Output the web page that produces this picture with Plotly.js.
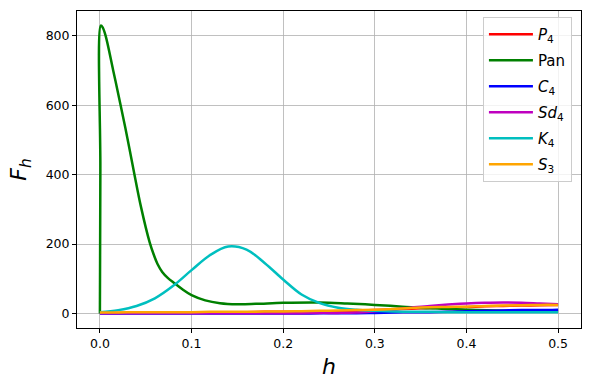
<!DOCTYPE html>
<html>
<head>
<meta charset="utf-8">
<script src="https://cdn.plot.ly/plotly-3.0.1.min.js"></script>
<style>
  html, body { margin: 0; padding: 0; background: #fff; }
  #plot { width: 590px; height: 390px; }
</style>
</head>
<body>
<div id="plot"></div>
<script>
// step sizes shared by the smooth curves
const h = [0, 0.02, 0.04, 0.06, 0.08, 0.1, 0.12, 0.14, 0.16, 0.18, 0.2, 0.22, 0.24,
  0.26, 0.28, 0.3, 0.32, 0.34, 0.36, 0.38, 0.4, 0.42, 0.44, 0.46, 0.48, 0.5];

// Pan has a sharp spike near zero, so it gets a denser grid
const hPan = [0, 0.0005, 0.001, 0.003, 0.0062, 0.0145, 0.0226, 0.03, 0.037, 0.045, 0.0543,
  0.059, 0.063, 0.068, 0.074, 0.081, 0.09, 0.1, 0.115, 0.131, 0.15,
  0.17, 0.2, 0.24, 0.27, 0.3, 0.33, 0.36, 0.4, 0.45, 0.5];
const pan = [0, 415, 829, 824, 800, 700, 600, 505, 410, 305, 205,
  168, 142, 120, 103, 88, 70, 53, 38, 30, 27,
  28, 31, 32, 29, 25, 20, 15, 11, 8, 7];

const p4 = [2, 2, 3, 3, 3, 3, 4, 4, 4, 5, 5, 6, 6,
  7, 8, 10, 12, 14, 16, 18, 19, 21, 22, 23, 24, 25];
const c4 = [0, 0, 0, 0, 0, 0, 0, 0, 0, 0, 0, 0, 1,
  1, 1, 2, 3, 4, 4, 5, 7, 8, 9, 10, 10, 11];
const sd4 = [1, 1, 1, 1, 1, 1, 1, 1, 1, 1, 1, 1, 2,
  2, 3, 7, 12, 17, 22, 26, 29, 31, 32, 31, 29, 27];
const k4 = [4, 10, 22, 44, 80, 125, 168, 193, 184, 145, 98, 55, 30,
  17, 11, 8, 6, 5, 5, 4, 4, 4, 4, 4, 4, 4];
const s3 = [3, 3, 4, 4, 4, 4, 5, 5, 5, 6, 6, 7, 8,
  9, 10, 11, 13, 16, 18, 19, 20, 22, 23, 24, 25, 25];

const names = ['<i>P</i><sub>4</sub>', 'Pan', '<i>C</i><sub>4</sub>',
  '<i>Sd</i><sub>4</sub>', '<i>K</i><sub>4</sub>', '<i>S</i><sub>3</sub>'];
const colors = ['#ff0000', '#008000', '#0000ff', '#bf00bf', '#00bfbf', '#ffa500'];
const ys = [p4, pan, c4, sd4, k4, s3];

const traces = ys.map((y, i) => ({
  x: i === 1 ? hPan : h,
  y: y,
  mode: 'lines',
  name: names[i],
  legendgroup: 'g' + i,
  line: { color: colors[i], width: 2.5, shape: 'spline', smoothing: 1 }
}));

const axisStyle = {
  showline: true,
  linecolor: '#000',
  linewidth: 1,
  mirror: true,
  ticks: 'outside',
  ticklen: 4,
  tickcolor: '#000',
  showgrid: true,
  gridcolor: '#b0b0b0',
  gridwidth: 0.8,
  zeroline: false,
  automargin: false,
  tickfont: { family: 'DejaVu Sans', size: 12.5, color: '#000' }
};

const layout = {
  width: 590,
  height: 390,
  margin: { l: 77, r: 9, t: 11, b: 62 },
  paper_bgcolor: '#fff',
  plot_bgcolor: '#fff',
  font: { family: 'DejaVu Sans', color: '#000' },
  showlegend: true,
  legend: {
    x: 0.982, y: 0.981, xanchor: 'right', yanchor: 'top',
    bgcolor: 'rgba(255,255,255,0.8)',
    bordercolor: '#cccccc', borderwidth: 1,
    font: { family: 'DejaVu Sans', size: 15 },
    itemwidth: 44,
    tracegroupgap: 3.5
  },
  xaxis: Object.assign({}, axisStyle, {
    range: [-0.025, 0.525],
    tickvals: [0, 0.1, 0.2, 0.3, 0.4, 0.5],
    ticktext: ['0.0', '0.1', '0.2', '0.3', '0.4', '0.5'],
    title: { text: '<i>h</i>', font: { family: 'DejaVu Sans', size: 22 }, standoff: 8 }
  }),
  yaxis: Object.assign({}, axisStyle, {
    range: [-41.5, 871],
    tickvals: [0, 200, 400, 600, 800],
    title: { text: '<i>F</i><sub><i>h</i></sub>', font: { family: 'DejaVu Sans', size: 22 }, standoff: 12 }
  })
};

Plotly.newPlot('plot', traces, layout, { displayModeBar: false, staticPlot: true });
</script>
</body>
</html>
